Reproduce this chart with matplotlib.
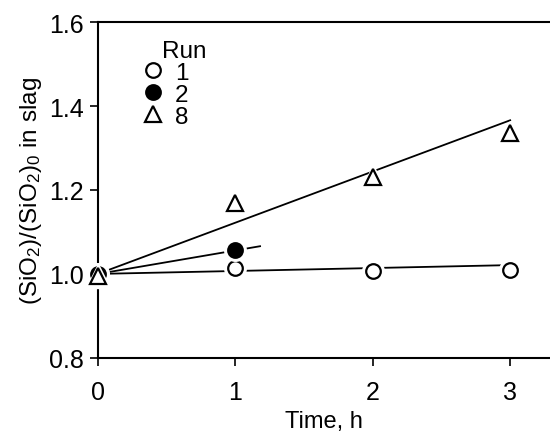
import numpy as np
import matplotlib
matplotlib.use("Agg")
import matplotlib.pyplot as plt

plt.rcParams["font.family"] = ["Liberation Sans", "DejaVu Sans"]
plt.rcParams["mathtext.fontset"] = "custom"
plt.rcParams["mathtext.rm"] = "Liberation Sans"
plt.rcParams["mathtext.default"] = "regular"

# measured ratios
run1_t = [0, 1, 2, 3]
run1_y = [1.0, 1.014, 1.008, 1.010]
run2_t = [0, 1]
run2_y = [1.0, 1.056]
run8_t = [0, 1, 2, 3]
run8_y = [0.995, 1.168, 1.232, 1.335]

# fitted lines (end points)
fit1_t = [0, 3]
fit1_y = [1.0, 1.021]
fit2_t = [0, 1.18]
fit2_y = [1.0, 1.066]
fit8_t = [0, 3]
fit8_y = [1.0, 1.366]

fig = plt.figure(figsize=(5.5, 4.35), dpi=100)
ax = fig.add_axes([0.178, 0.175, 0.822, 0.772])

for ft, fy in [(fit1_t, fit1_y), (fit2_t, fit2_y), (fit8_t, fit8_y)]:
    ax.plot(ft, fy, color="black", linewidth=1.3, zorder=2, clip_on=False)

series = [
    (run1_t, run1_y, "o", "white", "1", 10.5),
    (run2_t, run2_y, "o", "black", "2", 10.5),
    (run8_t, run8_y, "^", "white", "8", 12),
]
handles = []
for i, (t, y, m, fc, lab, ms) in enumerate(series):
    # white halo gives the small gap where the line meets a marker
    ax.plot(t, y, linestyle="none", marker=m, markersize=ms + 5,
            markerfacecolor="white", markeredgecolor="white",
            zorder=3 + 2 * i, clip_on=False)
    h, = ax.plot(t, y, linestyle="none", marker=m, markersize=ms,
                 markerfacecolor=fc, markeredgecolor="black",
                 markeredgewidth=1.6, zorder=4 + 2 * i, clip_on=False,
                 label=lab)
    handles.append(h)

ax.set_xlim(0, 3.29)
ax.set_ylim(0.8, 1.6)
ax.set_xticks([0, 1, 2, 3])
ax.set_yticks([0.8, 1.0, 1.2, 1.4, 1.6])
ax.yaxis.set_major_formatter(matplotlib.ticker.FormatStrFormatter("%.1f"))
ax.tick_params(direction="out", length=6, width=1.2, labelsize=18, pad=4)
ax.tick_params(axis="x", pad=10)
ax.spines["right"].set_visible(False)
for s in ["left", "bottom", "top"]:
    ax.spines[s].set_linewidth(1.5)

ax.set_xlabel("Time, h", fontsize=17, labelpad=4)
ax.set_ylabel("(SiO$_2$)/(SiO$_2$)$_0$ in slag", fontsize=17.5, labelpad=4)

leg = ax.legend(handles=handles, loc="upper left",
                bbox_to_anchor=(0.100, 0.882), frameon=False, fontsize=17.5,
                handlelength=0.8, handletextpad=0.5,
                labelspacing=0.0, borderaxespad=0, borderpad=0)
ax.text(0.19, 0.915, "Run", transform=ax.transAxes, fontsize=17.5,
        ha="center", va="center")

fig.savefig("out.png", dpi=100)
